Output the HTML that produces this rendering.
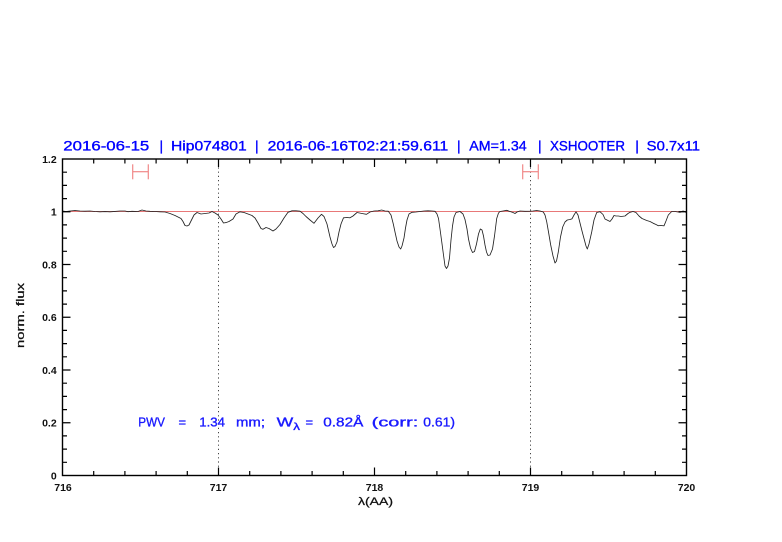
<!DOCTYPE html>
<html><head><meta charset="utf-8"><style>
html,body{margin:0;padding:0;background:#fff;}
svg{display:block;}
text{font-family:"Liberation Sans",sans-serif;}
</style></head><body>
<svg width="782" height="542" viewBox="0 0 782 542" xmlns="http://www.w3.org/2000/svg">
<rect width="782" height="542" fill="#fff"/>
<!-- title -->
<g fill="#0000ff" stroke="#0000ff" stroke-width="0.35" font-size="14">
<text x="63.3" y="150.3" textLength="86" lengthAdjust="spacingAndGlyphs">2016-06-15</text>
<text x="159.5" y="150.3">|</text>
<text x="171" y="150.3" textLength="75.7" lengthAdjust="spacingAndGlyphs">Hip074801</text>
<text x="255" y="150.3">|</text>
<text x="267.7" y="150.3" textLength="180.6" lengthAdjust="spacingAndGlyphs">2016-06-16T02:21:59.611</text>
<text x="457" y="150.3">|</text>
<text x="469.3" y="150.3" textLength="57.4" lengthAdjust="spacingAndGlyphs">AM=1.34</text>
<text x="538" y="150.3">|</text>
<text x="550" y="150.3" textLength="75" lengthAdjust="spacingAndGlyphs">XSHOOTER</text>
<text x="635.3" y="150.3">|</text>
<text x="646.7" y="150.3" textLength="53.3" lengthAdjust="spacingAndGlyphs">S0.7x11</text>
</g>
<!-- dotted verticals -->
<g stroke="#444" stroke-width="1" stroke-dasharray="1.2,3">
<line x1="218.5" y1="159" x2="218.5" y2="475.5"/>
<line x1="530.5" y1="159" x2="530.5" y2="475.5"/>
</g>
<!-- y=1 line -->
<line x1="62.5" y1="211.5" x2="686.5" y2="211.5" stroke="#e87878" stroke-width="0.9"/>
<!-- error bars -->
<g stroke="#f08888" stroke-width="1.2" fill="none">
<line x1="132.7" y1="171.7" x2="148.3" y2="171.7"/>
<line x1="132.7" y1="164.3" x2="132.7" y2="179.3"/>
<line x1="148.3" y1="164.3" x2="148.3" y2="179.3"/>
<line x1="522.7" y1="171.7" x2="538.3" y2="171.7"/>
<line x1="522.7" y1="164.3" x2="522.7" y2="179.3"/>
<line x1="538.3" y1="164.3" x2="538.3" y2="179.3"/>
</g>
<!-- spectrum -->
<polyline fill="none" stroke="#222" stroke-width="0.85" stroke-linejoin="round" points="
62.5,211 66,211.5 70,211 75,210.5 80,211 85,211.2 90,211 95,211.5 100,211.8 105,211.6 110,211.8 115,211.4 120,211 125,211 128,211.7 132,211.3 138,211.5 142,210 146,211 150,211.3 155,211.5 160,211.8 165,212 170,213.5 175,215.5 178,217 181,218.5 183,221.5 185,225.5 187,226 189,225 192,219 194,215 197,212.5 201,214 205,213.5 209,213 212,211.5 215,213 218,215 221,219 223.5,223 226,222.6 229,221.5 233,219 236,214 240,211.8 244,212.5 248,214 252,215.5 255,218 258,223 261,228.5 263,229.3 266,227.5 269,228.5 273,231 276,229 280,224.5 284,218 288,212.3 292,210.8 296,210.8 300,211.2 303,213.5 306,216.5 310,220 314,223.3 318,218 321.5,214.3 324,216.5 327,224 330,237 332,244 333.5,247.5 335,246.5 337,242 339,232 341,224 343.5,217.8 347,217.5 350,217.8 353,216 357,212.5 362,213.5 366.5,214.3 370,212 374,211 378,210.8 381.7,210 385,211 388.3,211.2 391,215 393.3,224 395,232 397,241 399,247 400.7,249 402,246 404,238 405.5,228 407,220 409,214 412,212.3 416,212 420,211.5 424,211 428,210.8 432,211 435,211.3 437,214 438.5,218.5 440,229 441.7,241.5 443.5,255 445,266 446.5,268.5 448,266 449.5,258 451,240 452.5,226 454,217 456,212.5 460,211.5 463,214 465,219.5 467,229 468.5,239 470.5,248 472.5,252.5 474.5,251.5 476.5,244 478.5,234 480.3,229 482,230 483.5,236 485,245 486.5,252 488,255.5 490,255 492.5,249 494.5,236 496.7,218.5 498.5,213 500,211.5 503,211 506.7,210.3 510,211.5 513,212.5 515,213.5 517,212 520,211 525,211.3 530,211.2 533,211 536.7,210.5 540,211 543.3,212 545,215 546.7,221.7 548.5,232 550.7,245 553,256 555,263 556.5,261 558.3,252 560.5,237 562.7,227 565,222 567.3,220 570,219.5 572,218.8 574,215 576,211.8 578,215 580,223 582,231 584,238.5 586,246 587.3,249 589,244 591.7,232 594,220 596.7,212.5 600,211.7 603,214.5 605,219 608,220.5 610,221.5 612,219 614,215.5 616,216 618.3,216 621,216.5 625,216 628,213.5 630,212.3 633,211.5 636,212.5 639,216 642,218.5 646.7,220.5 650,221.5 653.3,223.3 656,224.5 658.3,225.7 661,225.5 664,225.8 666,221 668.3,215 671.7,211.5 675,211.5 678,212 680,212.3 683,211 685,211.5 686.5,213"/>
<!-- ticks -->
<g stroke="#000" stroke-width="1.2">
<path d="M218.5,475.5v-8M374.5,475.5v-8M530.5,475.5v-8M218.5,159v8M374.5,159v8M530.5,159v8"/>
<path d="M93.7,475.5v-4.5M124.9,475.5v-4.5M156.1,475.5v-4.5M187.3,475.5v-4.5M249.7,475.5v-4.5M280.9,475.5v-4.5M312.1,475.5v-4.5M343.3,475.5v-4.5M405.7,475.5v-4.5M436.9,475.5v-4.5M468.1,475.5v-4.5M499.3,475.5v-4.5M561.7,475.5v-4.5M592.9,475.5v-4.5M624.1,475.5v-4.5M655.3,475.5v-4.5
M93.7,159v4.5M124.9,159v4.5M156.1,159v4.5M187.3,159v4.5M249.7,159v4.5M280.9,159v4.5M312.1,159v4.5M343.3,159v4.5M405.7,159v4.5M436.9,159v4.5M468.1,159v4.5M499.3,159v4.5M561.7,159v4.5M592.9,159v4.5M624.1,159v4.5M655.3,159v4.5"/>
<path d="M62.5,422.75h8M62.5,370h8M62.5,317.25h8M62.5,264.5h8M62.5,211.75h8
M686.5,422.75h-8M686.5,370h-8M686.5,317.25h-8M686.5,264.5h-8M686.5,211.75h-8"/>
<path d="M62.5,462.3h4.5M62.5,449.1h4.5M62.5,435.9h4.5M62.5,409.6h4.5M62.5,396.4h4.5M62.5,383.2h4.5M62.5,356.8h4.5M62.5,343.6h4.5M62.5,330.4h4.5M62.5,304.1h4.5M62.5,290.9h4.5M62.5,277.7h4.5M62.5,251.3h4.5M62.5,238.1h4.5M62.5,224.9h4.5M62.5,198.6h4.5M62.5,185.4h4.5M62.5,172.2h4.5
M686.5,462.3h-4.5M686.5,449.1h-4.5M686.5,435.9h-4.5M686.5,409.6h-4.5M686.5,396.4h-4.5M686.5,383.2h-4.5M686.5,356.8h-4.5M686.5,343.6h-4.5M686.5,330.4h-4.5M686.5,304.1h-4.5M686.5,290.9h-4.5M686.5,277.7h-4.5M686.5,251.3h-4.5M686.5,238.1h-4.5M686.5,224.9h-4.5M686.5,198.6h-4.5M686.5,185.4h-4.5M686.5,172.2h-4.5"/>
</g>
<!-- frame -->
<rect x="62.5" y="159" width="624" height="316.5" fill="none" stroke="#000" stroke-width="1.4"/>
<!-- y labels -->
<g font-size="10.5" font-weight="bold" fill="#111" text-anchor="end">
<text x="56.7" y="479.3">0</text>
<text x="56.7" y="426.5">0.2</text>
<text x="56.7" y="373.8">0.4</text>
<text x="56.7" y="321">0.6</text>
<text x="56.7" y="268.3">0.8</text>
<text x="56.7" y="215.5">1</text>
<text x="56.7" y="162.8">1.2</text>
</g>
<!-- x labels -->
<g font-size="10.5" font-weight="bold" fill="#111" text-anchor="middle">
<text x="63" y="491">716</text>
<text x="218.5" y="491">717</text>
<text x="374.5" y="491">718</text>
<text x="530.5" y="491">719</text>
<text x="686.5" y="491">720</text>
<text x="375.5" y="505" font-size="11" font-weight="normal" stroke="#111" stroke-width="0.25" textLength="35" lengthAdjust="spacingAndGlyphs">λ(AA)</text>
</g>
<text transform="translate(24,315.5) rotate(-90)" font-size="11" fill="#111" stroke="#111" stroke-width="0.25" text-anchor="middle" textLength="65" lengthAdjust="spacingAndGlyphs">norm. flux</text>
<!-- PWV annotation -->
<g fill="#1a1aff" stroke="#1a1aff" stroke-width="0.35" font-size="13">
<text x="138.3" y="426.7" textLength="26.7" lengthAdjust="spacingAndGlyphs">PWV</text>
<text x="178.5" y="426.7">=</text>
<text x="199.3" y="426.7" textLength="25.7" lengthAdjust="spacingAndGlyphs">1.34</text>
<text x="236" y="426.7" textLength="29" lengthAdjust="spacingAndGlyphs">mm;</text>
<text x="276.7" y="426.7" textLength="16.6" lengthAdjust="spacingAndGlyphs">W</text>
<text x="293.3" y="430" font-size="10" textLength="6.7" lengthAdjust="spacingAndGlyphs">λ</text>
<text x="305.5" y="426.7">=</text>
<text x="323.3" y="426.7" textLength="40" lengthAdjust="spacingAndGlyphs">0.82Å</text>
<text x="371.7" y="426.7" textLength="46.6" lengthAdjust="spacingAndGlyphs">(corr:</text>
<text x="423.3" y="426.7" textLength="31.7" lengthAdjust="spacingAndGlyphs">0.61)</text>
</g>
</svg>
</body></html>
